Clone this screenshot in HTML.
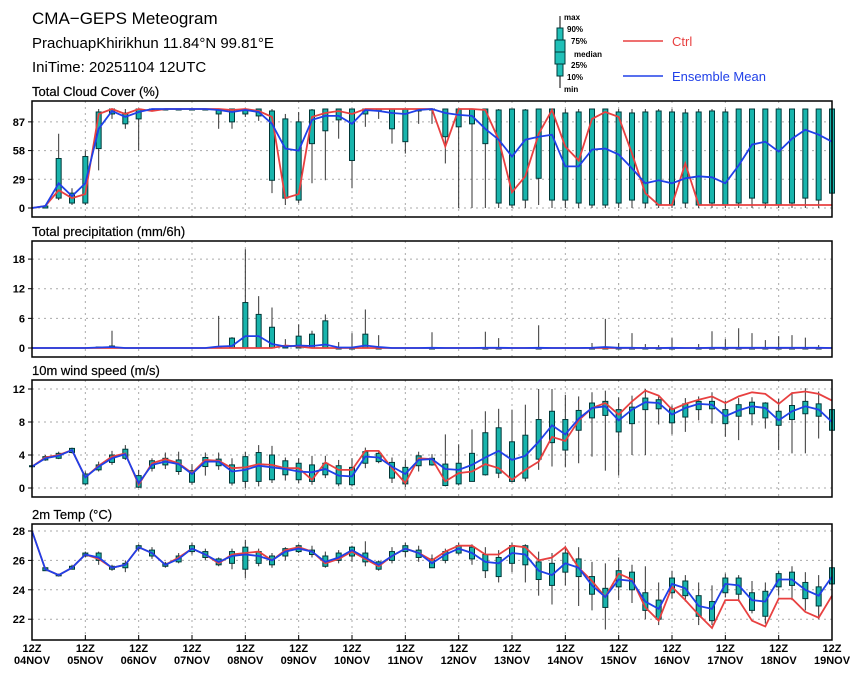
<!DOCTYPE html>
<html><head><meta charset="utf-8"><style>
body{margin:0;background:#fff;}
svg text{font-family:"Liberation Sans",sans-serif;}
</style></head><body>
<svg id="chart" width="860" height="678" viewBox="0 0 860 678" xmlns="http://www.w3.org/2000/svg">
<text x="32" y="24" font-size="17">CMA−GEPS Meteogram</text>
<text x="32" y="48" font-size="15">PrachuapKhirikhun 11.84°N 99.81°E</text>
<text x="32" y="72" font-size="15">IniTime: 20251104 12UTC</text>
<g>
<line x1="560" y1="16" x2="560" y2="88" stroke="#000" stroke-width="1"/>
<rect x="557" y="28" width="6" height="48" fill="#20c0b8" stroke="#003838" stroke-width="1"/>
<rect x="555" y="40" width="10" height="24" fill="#20c0b8" stroke="#003838" stroke-width="1"/>
<line x1="555" y1="52" x2="565" y2="52" stroke="#003838"/>
<g font-size="8" font-weight="bold">
<text x="564" y="20">max</text><text x="567" y="32">90%</text><text x="571" y="44">75%</text>
<text x="574" y="57">median</text><text x="571" y="68">25%</text><text x="567" y="80">10%</text><text x="564" y="92">min</text>
</g>
<line x1="623" y1="41" x2="663" y2="41" stroke="#e84040" stroke-width="1.5"/>
<text x="672" y="46" font-size="13" fill="#e84040">Ctrl</text>
<line x1="623" y1="76" x2="663" y2="76" stroke="#2040e8" stroke-width="1.5"/>
<text x="672" y="81" font-size="13" fill="#2040e8">Ensemble Mean</text>
</g>
</svg>
<script>
const days=["04NOV","05NOV","06NOV","07NOV","08NOV","09NOV","10NOV","11NOV","12NOV","13NOV","14NOV","15NOV","16NOV","17NOV","18NOV","19NOV"];

const cloudTicks=[0,29,58,87];
const cloudMean=[0,2,25,12,25,80,98,92,97,100,100,100,100,100,99,97,99,97,85,60,58,89,93,93,85,99,98,96,95,99,100,96,94,93,80,69,52,69,72,74,42,42,59,60,54,40,25,28,25,30,32,31,25,43,64,67,57,70,79,74,67];
const cloudCtrl=[0,2,18,10,14,95,100,95,100,98,100,100,100,100,100,99,100,98,92,10,14,92,96,98,95,100,100,100,100,100,100,62,100,100,99,69,16,32,75,99,62,48,90,97,92,55,15,3,3,45,3,3,3,3,3,3,3,3,3,3,3];
const cloudMin=[0,0,8,3,3,38,90,80,58,98,99,99,99,99,80,80,92,88,15,3,5,25,28,70,20,82,90,65,55,85,85,45,0,0,0,0,0,0,3,0,0,0,0,0,0,0,0,0,0,0,0,0,0,0,0,0,0,0,0,0,0];
const cloudP25=[0,0,10,5,5,60,95,85,90,99,100,100,100,100,95,87,95,93,28,10,8,65,78,89,48,95,98,80,67,98,99,72,82,85,65,5,3,8,30,8,8,5,3,3,5,8,5,3,3,5,3,5,3,5,10,5,3,5,10,8,15];
const cloudP75=[0,2,50,15,52,97,100,96,100,100,100,100,100,100,100,100,100,100,98,90,87,99,100,100,100,100,100,100,100,100,100,100,100,100,100,99,100,99,100,100,96,97,100,100,97,96,97,98,97,96,97,98,97,100,100,100,100,100,100,100,100];
const cloudMax=[0,3,75,20,58,100,100,100,100,100,100,100,100,100,100,100,100,100,100,95,97,100,100,100,100,100,100,100,100,100,100,100,100,100,100,100,100,100,100,100,100,100,100,100,100,100,100,100,100,100,100,100,100,100,100,100,100,100,100,100,100];

const precTicks=[0,6,12,18];
const precMean=[0,0,0,0,0,0.1,0.2,0,0,0,0,0,0,0,0.3,0.4,2.4,2.4,0.8,0.3,0.5,0.4,0.7,0.1,0.1,0.5,0.2,0,0,0,0.05,0,0,0,0.05,0.05,0,0,0.05,0,0,0,0.05,0.2,0.05,0.05,0,0,0.05,0,0,0.05,0.05,0.05,0.05,0.05,0.05,0.05,0.05,0.05,0];
const precCtrl=[0,0,0,0,0,0,0,0,0,0,0,0,0,0,0,0,0,0,0,0.5,0.3,0,0,0,0,0,0,0,0,0,0,0,0,0,0,0,0,0,0,0,0,0,0,0,0,0,0,0,0,0,0,0,0,0,0,0,0,0,0,0,0];
const precMin=[0,0,0,0,0,0,0,0,0,0,0,0,0,0,0,0,0,0,0,0,0,0,0,0,0,0,0,0,0,0,0,0,0,0,0,0,0,0,0,0,0,0,0,0,0,0,0,0,0,0,0,0,0,0,0,0,0,0,0,0,0];
const precP25=[0,0,0,0,0,0,0,0,0,0,0,0,0,0,0,0,0,0,0,0,0,0,0,0,0,0,0,0,0,0,0,0,0,0,0,0,0,0,0,0,0,0,0,0,0,0,0,0,0,0,0,0,0,0,0,0,0,0,0,0,0];
const precP75=[0,0,0,0,0,0.2,0.4,0,0,0,0,0,0,0,0.3,2.0,9.2,6.8,4.2,0.5,2.4,2.8,5.5,0,0,2.8,0,0,0,0,0,0,0,0,0,0,0,0,0,0,0,0,0,0,0,0,0,0,0,0,0,0,0,0,0,0,0,0,0,0,0];
const precMax=[0,0,0,0,0,0.3,3.5,0,0,0,0,0,0,0,6.5,2.2,20,10.5,8.2,1.8,4.8,3.5,6.8,1.2,3,7.8,2.6,0,0,0,3.2,0,0,0,3.3,2,0,0,4.6,0,0,0,1,5.9,1,3,0.8,0.6,2,0,0.8,3.4,1.8,4,3,1.6,2.4,2.6,2.1,0.6,0];

const windTicks=[0,4,8,12];
const windMean=[2.6,3.6,3.9,4.6,1.3,2.6,3.6,4.1,0.6,2.8,3.2,2.9,1.7,3.2,3.2,2.0,2.2,2.7,2.5,2.3,2.0,1.9,2.3,1.5,1.4,3.8,3.7,2.6,1.7,3.4,3.5,2.3,2.2,2.8,3.7,4.5,3.4,3.9,5.6,7.6,6.5,8.4,9.7,9.9,8.2,9.5,10.4,10.3,8.9,9.7,10.2,10.1,8.7,9.4,9.9,9.7,8.2,9.3,9.9,9.5,8.0];
const windCtrl=[2.6,3.7,4.0,4.6,1.3,2.7,3.8,4.2,0.4,3.0,3.5,3.0,1.8,3.4,3.3,2.4,2.5,2.9,2.8,2.4,2.4,1.0,3.1,2.2,2.2,4.5,4.5,2.4,0.6,3.6,3.5,0.8,1.8,2.0,2.9,2.4,1.0,2.2,3.2,6.2,5.7,8.2,9.7,10.3,8.9,10.5,11.8,11.2,9.5,10.2,10.7,11.1,10.3,11.1,11.6,11.4,10.2,11.5,11.7,11.4,10.6];
const windMin=[2.6,3.3,3.5,4.2,0.3,2.0,2.8,3.4,0,2.0,2.3,1.6,0.4,1.5,2.2,0.3,0,0.2,0.6,0.9,0.6,0.4,1.2,0.2,0.2,2.4,3.0,0.6,0.1,2.0,2.7,0.2,0.3,0.8,1.5,1.2,0.7,0.8,2.2,2.6,2.5,3.0,3.8,2.1,1.5,4.0,4.0,7.7,6.5,6.8,8.2,7.8,6.2,5.8,7.6,7.2,4.6,4.2,4.2,6.0,5.4];
const windP25=[2.6,3.4,3.6,4.3,0.5,2.2,3.1,3.6,0.1,2.4,2.8,2.0,0.7,2.6,2.7,0.6,0.8,0.8,1.0,1.6,1.0,0.8,1.6,0.5,0.4,3.0,3.2,1.2,0.5,2.7,2.8,0.3,0.5,0.8,1.6,1.8,0.8,1.2,3.5,5.5,4.6,7.0,8.5,8.8,6.8,7.8,9.5,9.6,7.9,8.6,9.5,9.6,7.8,8.7,9.0,8.5,7.6,8.3,9.0,8.7,7.0];
const windP75=[2.7,3.8,4.2,4.8,1.7,2.8,4.0,4.7,1.5,3.3,3.6,3.4,2.1,3.7,3.5,2.8,3.8,4.3,4.0,3.3,3.0,2.8,3.0,2.7,2.5,4.4,4.2,3.1,2.5,3.9,3.6,2.9,3.0,4.2,6.7,7.3,5.6,6.4,8.3,9.3,8.3,9.4,10.3,10.5,9.5,9.8,10.9,10.7,9.6,10.2,10.5,10.5,9.5,10.1,10.4,10.3,9.3,10.0,10.5,10.2,9.5];
const windMax=[2.7,4.0,4.4,4.9,2.0,3.2,4.5,5.2,2.2,3.6,4.3,4.4,2.9,4.3,4.3,3.6,4.4,5.2,5.1,3.7,3.6,3.9,3.9,3.4,3.6,4.9,4.5,3.7,3.4,4.4,4.1,6.5,5.3,7.1,9.3,9.6,9.5,10.1,12.0,12.0,11.3,11.1,11.6,11.8,11.0,11.2,12.0,11.1,10.0,10.9,11.1,11.6,10.6,10.9,11.0,10.4,10.8,11.6,12.1,11.7,11.0];

const tempTicks=[22,24,26,28];
const tempMean=[28,25.4,25.0,25.5,26.4,26.2,25.5,25.7,26.9,26.5,25.7,26.1,26.8,26.4,25.9,26.3,26.4,26.3,26.0,26.6,26.8,26.6,25.9,26.2,26.7,26.2,25.7,26.3,26.8,26.5,25.8,26.4,26.8,26.5,25.9,25.8,26.5,26.4,25.3,25.0,25.8,25.5,24.3,23.5,24.7,24.6,23.2,22.7,24.4,24.1,22.9,22.7,24.4,24.3,23.3,23.2,24.7,24.7,24.0,23.6,24.9];
const tempCtrl=[28,25.4,25.0,25.5,26.4,26.1,25.5,25.7,26.9,26.5,25.7,26.2,26.8,26.4,25.8,26.4,26.5,26.6,26.0,26.7,26.9,26.6,25.8,26.1,26.6,26.1,25.6,26.3,26.8,26.5,26.0,26.6,27.0,27.0,26.4,26.4,27.0,26.9,26.0,26.2,26.9,25.5,24.6,23.5,25.1,24.7,22.8,21.9,24.2,23.3,22.3,21.4,23.3,23.3,21.9,21.5,23.4,23.4,22.5,22.1,23.6];
const tempMin=[28,25.3,24.9,25.4,26.2,25.7,25.3,25.2,26.6,26.1,25.5,25.8,26.4,26.0,25.6,25.4,24.8,25.6,25.5,26.0,26.5,26.2,25.5,25.8,25.9,25.6,25.3,25.8,26.2,25.9,25.5,25.8,26.4,25.7,24.8,24.5,25.2,24.5,23.6,23.0,24.3,22.9,22.6,21.3,23.3,23.1,22.0,21.6,23.4,23.2,21.6,21.6,23.5,23.2,22.4,21.7,23.6,23.3,22.6,22.0,24.1];
const tempP25=[28,25.3,24.95,25.4,26.3,26.0,25.4,25.5,26.8,26.3,25.6,25.9,26.6,26.2,25.7,25.8,25.4,25.8,25.7,26.3,26.6,26.4,25.6,26.0,26.3,25.9,25.4,26.0,26.6,26.2,25.5,26.0,26.5,26.1,25.3,24.9,25.8,25.7,24.7,24.3,25.2,24.9,23.7,22.8,24.2,24.0,22.6,22.0,23.8,23.6,22.2,21.9,23.8,23.7,22.6,22.2,24.2,24.3,23.4,22.9,24.4];
const tempP75=[28,25.5,25.05,25.6,26.5,26.5,25.6,25.8,27.0,26.7,25.8,26.3,27.0,26.6,26.1,26.6,26.9,26.6,26.3,26.8,27.0,26.7,26.3,26.5,26.9,26.5,25.9,26.6,27.0,26.7,26.1,26.6,27.0,26.9,26.4,26.2,27.0,27.0,25.9,25.8,26.5,26.1,24.9,24.1,25.3,25.2,23.8,23.3,24.8,24.6,23.6,23.2,24.8,24.8,23.8,23.9,25.1,25.2,24.5,24.2,25.5];
const tempMax=[28,25.5,25.1,25.7,26.6,26.6,25.7,26.0,27.1,26.9,25.9,26.5,27.2,26.8,26.2,26.8,27.4,26.8,26.5,26.9,27.1,27.0,26.6,26.7,27.0,27.3,26.0,26.9,27.2,27.0,26.4,26.8,27.2,27.1,26.9,26.7,27.2,27.1,26.6,26.5,27.0,26.9,25.9,25.8,26.2,25.7,25.6,24.5,25.3,25.0,24.5,24.3,25.1,25.0,24.6,24.5,25.3,25.6,25.2,25.0,25.8];

const NS="http://www.w3.org/2000/svg";
const svg=document.getElementById('chart');
const X0=32,X1=832,NSTEP=60;
function xs(i){return X0+(X1-X0)*i/NSTEP;}
function mk(tag,attrs,parent){const e=document.createElementNS(NS,tag);for(const k in attrs)e.setAttribute(k,attrs[k]);(parent||svg).appendChild(e);return e;}

const panels=[
 {name:'cloud',title:'Total Cloud Cover (%)',top:101,bot:217,v0:0,y0:208,k:0.99,ticks:cloudTicks,mean:cloudMean,ctrl:cloudCtrl,mn:cloudMin,p25:cloudP25,p75:cloudP75,mx:cloudMax},
 {name:'precip',title:'Total precipitation (mm/6h)',top:241,bot:357,v0:0,y0:348,k:4.94,ticks:precTicks,mean:precMean,ctrl:precCtrl,mn:precMin,p25:precP25,p75:precP75,mx:precMax},
 {name:'wind',title:'10m wind speed (m/s)',top:380,bot:497,v0:0,y0:488,k:8.25,ticks:windTicks,mean:windMean,ctrl:windCtrl,mn:windMin,p25:windP25,p75:windP75,mx:windMax},
 {name:'temp',title:'2m Temp (°C)',top:524,bot:640,v0:28,y0:531,k:14.7,ticks:tempTicks,mean:tempMean,ctrl:tempCtrl,mn:tempMin,p25:tempP25,p75:tempP75,mx:tempMax}
];

panels.forEach(p=>{
  const ys=v=>p.y0-(v-p.v0)*p.k;
  const g=mk('g',{});
  
  
  const t=mk('text',{x:32,y:p.top-5,'font-size':13,stroke:'#000','stroke-width':0.2},g);t.textContent=p.title;
  
  
  for(let d=1;d<15;d++){const x=xs(d*4);mk('line',{x1:x,x2:x,y1:p.top,y2:p.bot,stroke:'#aaa','stroke-width':1,'stroke-dasharray':'2,4'},g);}
  p.ticks.forEach(v=>{
    const y=ys(v);
    mk('line',{x1:X0,x2:X1,y1:y,y2:y,stroke:'#aaa','stroke-width':1,'stroke-dasharray':'2,4'},g);
    mk('line',{x1:X0-4,x2:X0,y1:y,y2:y,stroke:'#000'},g);
    const tl=mk('text',{x:X0-7,y:y+4,'font-size':11,'font-weight':'bold','text-anchor':'end'},g);tl.textContent=v;
    
    
  });
  for(let i=0;i<p.mean.length;i++){
    const x=xs(i);
    if(p.mx[i]-p.mn[i]<=0.0001) continue;
    const w=mk('line',{x1:x,x2:x,y1:ys(p.mx[i]),y2:ys(p.mn[i]),stroke:'#333','stroke-width':1},g);
    
    
    const yt=ys(p.p75[i]),yb=ys(p.p25[i]);
    const b=mk('rect',{x:x-2.5,y:yt,width:5,height:Math.max(1,yb-yt),fill:'#18b4ac',stroke:'#003838','stroke-width':1},g);
    
    
  }
  const pts=a=>a.map((v,i)=>xs(i).toFixed(1)+','+ys(v).toFixed(1)).join(' ');
  const lc=mk('polyline',{points:pts(p.ctrl),fill:'none',stroke:'#e84040','stroke-width':1.8},g);
  
  
  const lm=mk('polyline',{points:pts(p.mean),fill:'none',stroke:'#2040e8','stroke-width':1.8},g);
  
  
  mk('rect',{x:X0,y:p.top,width:X1-X0,height:p.bot-p.top,fill:'none',stroke:'#000','stroke-width':1.5},g);
});
const last=panels[3];
days.forEach((d,j)=>{
  const x=xs(j*4);
  mk('line',{x1:x,x2:x,y1:last.bot,y2:last.bot-5,stroke:'#000'});
  const a=mk('text',{x:x,y:652,'font-size':11,'font-weight':'bold','text-anchor':'middle'});a.textContent='12Z';
  
  
  const b=mk('text',{x:x,y:664,'font-size':11,'font-weight':'bold','text-anchor':'middle'});b.textContent=d;
  
  
});
</script>
</body></html>
